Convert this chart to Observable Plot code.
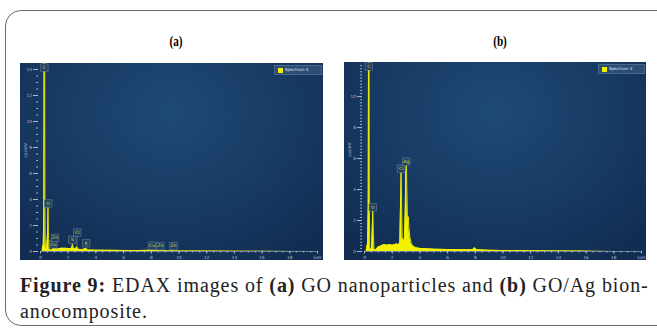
<!DOCTYPE html>
<html><head><meta charset="utf-8">
<script src="https://cdn.jsdelivr.net/npm/d3@7"></script>
<script src="https://cdn.jsdelivr.net/npm/@observablehq/plot@0.6"></script>
<style>
body{margin:0;background:#fff;width:657px;height:329px;overflow:hidden;position:relative;font-family:"Liberation Serif",serif}
#frame{position:absolute;left:5px;top:10px;width:670px;height:316px;border:1px solid #6b6b6b;border-radius:16px;box-sizing:border-box}
.ptitle{position:absolute;top:34px;font-family:"Liberation Serif",serif;font-weight:bold;font-size:14px;transform:translateX(-50%) scaleX(0.8)}
.panel{position:absolute}
.legend{position:absolute;height:10px;background:#2b4d74;border:1px solid #45688f;box-sizing:border-box;font-family:"DejaVu Sans",sans-serif;font-size:4px;color:#e6edf5;line-height:8px;padding-left:10px}
.legend:before{content:"";position:absolute;left:3px;top:2px;width:5px;height:5px;background:#f2f200}
#caption{position:absolute;left:20px;top:272px;width:650px;font-size:20px;letter-spacing:0.9px;line-height:26px;color:#222;margin:0;white-space:nowrap}
</style></head><body>
<div id="frame"></div>
<div class="ptitle" style="left:176px">(a)</div>
<div class="ptitle" style="left:500px">(b)</div>
<div id="pa" class="panel" style="left:20px;top:63px"></div>
<div id="pb" class="panel" style="left:344px;top:62px"></div>
<div class="legend" style="left:274px;top:65px;width:48px">Spectrum 4</div>
<div class="legend" style="left:598px;top:64px;width:47px">Spectrum 3</div>
<p id="caption"><b>Figure 9:</b> EDAX images of <b>(a)</b> GO nanoparticles and <b>(b)</b> GO/Ag bion-<br>anocomposite.</p>
<script>
// Spectrum (a) : GO nanoparticles
const specA_keV = [0,0.12,0.15,0.2,0.24,0.26,0.3,0.32,0.35,0.44,0.5,0.54,0.58,0.63,0.75,0.88,0.93,1.01,1.08,1.25,1.5,1.8,2.1,2.25,2.31,2.37,2.55,2.62,2.7,3.0,3.3,3.4,4,5,6,7,8.04,8.63,9.57,10,12,14,16,18,20];
const specA_cps = [0,0,0.4,0.5,3,15,15,3,0.4,0.2,1.2,3.4,1.0,0.15,0.1,0.15,0.3,0.35,0.2,0.2,0.25,0.25,0.22,0.25,0.55,0.25,0.22,0.38,0.18,0.14,0.25,0.12,0.1,0.09,0.08,0.07,0.1,0.06,0.05,0.04,0.03,0.02,0.01,0.005,0];
const peaksA_el  = ["C","O","Cu","Zn","S","Cl","K","Cu","Zn","Zn"];
const peaksA_keV = [0.28,0.55,0.93,1.05,2.3,2.65,3.3,8.05,8.65,9.6];
const peaksA_top = [14,3.4,0.3,0.35,0.55,0.38,0.25,0.1,0.06,0.05];
const peaksA_lab = [14.15,3.7,0.55,1.05,0.9,1.45,0.65,0.45,0.42,0.42];

// Spectrum (b) : GO/Ag bionanocomposite
const specB_keV = [0,0.12,0.16,0.22,0.27,0.29,0.33,0.35,0.38,0.45,0.52,0.56,0.6,0.64,0.68,0.75,0.85,1.0,1.2,1.4,1.6,1.8,2.0,2.2,2.35,2.45,2.55,2.6,2.64,2.68,2.72,2.8,2.88,2.94,2.98,3.02,3.07,3.11,3.16,3.2,3.28,3.38,3.5,3.7,4.0,4.5,5,6,7,7.8,7.95,8.1,9,10,12,14,15.5,16.5,18,20];
const specB_cps = [0,0,0.3,0.5,3,13,13,3,0.3,0.05,0.3,1.5,2.65,1.2,0.2,0.05,0.15,0.3,0.35,0.45,0.4,0.45,0.4,0.45,0.5,0.4,0.6,3,5.1,3,0.9,0.7,0.8,2.5,5.0,5.55,3.5,1.8,2.25,1.6,0.9,0.5,0.35,0.25,0.2,0.18,0.15,0.13,0.12,0.12,0.25,0.12,0.08,0.06,0.05,0.04,0.03,0.01,0,0];
const peaksB_el  = ["C","O","Cl","Ag"];
const peaksB_keV = [0.31,0.6,2.65,3.02];
const peaksB_top = [12,2.65,5.1,5.55];
const peaksB_lab = [11.95,2.85,5.35,5.8];

const xMajor = [0,2,4,6,8,10,12,14,16,18,20];
const xMinor = d3.range(0, 20.01, 0.5);

function panel(el, keV, cps, pel, pkeV, ptop, plab, o) {
  const spec = keV.map((k,i)=>({k, c: cps[i]}));
  const peaks = pel.map((e,i)=>({e, k: pkeV[i], top: ptop[i], lab: plab[i]}));
  const svg = Plot.plot({
    width: o.width, height: o.height,
    marginLeft: 20, marginRight: o.mr, marginTop: 0, marginBottom: o.mb,
    style: {background: "radial-gradient(ellipse 70% 90% at 50% 25%, #1f4a76 0%, #183c65 50%, #122c52 100%)", color: "#a9bcd3", fontFamily: "DejaVu Sans, sans-serif", overflow: "visible"},
    x: {domain: [0, 20], label: null},
    y: {domain: [0, o.ymax], label: null},
    marks: [
      Plot.ruleY([0], {stroke: "#7f93ad", strokeWidth: 0.8}),
      Plot.areaY(spec, {x: "k", y: "c", fill: "#f2f200", curve: "linear", clip: true}),
      Plot.lineY(spec, {x: "k", y: "c", stroke: "#f2f200", strokeWidth: 0.9, curve: "linear", clip: true}),
      Plot.ruleX(peaks, {x: "k", y1: "top", y2: "lab", stroke: "#8a9bb0", strokeWidth: 0.5}),
      Plot.dot(peaks, {x: "k", y: "lab", symbol: "square", r: 4.2, fill: "#203d5e", stroke: "#6c84a2", strokeWidth: 0.6}),
      Plot.text(peaks, {x: "k", y: "lab", text: "e", fill: "#d9e03a", fontSize: 4.5}),
      Plot.axisX({ticks: xMajor, label: null, tickSize: 2.5, tickPadding: 1.5, fontSize: 4.3, tickFormat: d => d === 20 ? "keV" : d}),
      Plot.axisX({ticks: xMinor, label: null, tickSize: 1.5, tickFormat: () => ""}),
      Plot.axisY({ticks: o.yMajor, label: null, tickSize: 5, tickPadding: 1.5, fontSize: 4.3, dx: -2}),
      Plot.axisY({ticks: o.yMinor, label: null, tickSize: 1.8, tickFormat: () => "", dx: -2}),
      Plot.text(["cps/eV"], {frameAnchor: "left", dx: -15, rotate: -90, fontSize: 4.3, fill: "#a9bcd3"})
    ]
  });
  document.getElementById(el).appendChild(svg);
}

panel("pa", specA_keV, specA_cps, peaksA_el, peaksA_keV, peaksA_top, peaksA_lab,
  {width: 303, height: 197, mr: 6, mb: 9, ymax: 14.46, yMajor: [0,2,4,6,8,10,12,14], yMinor: d3.range(0, 14.01, 0.5)});
panel("pb", specB_keV, specB_cps, peaksB_el, peaksB_keV, peaksB_top, peaksB_lab,
  {width: 302, height: 198, mr: 5, mb: 9, ymax: 12.2, yMajor: [0,2,4,6,8,10], yMinor: d3.range(0, 12.01, 0.2)});
</script>
</body></html>
